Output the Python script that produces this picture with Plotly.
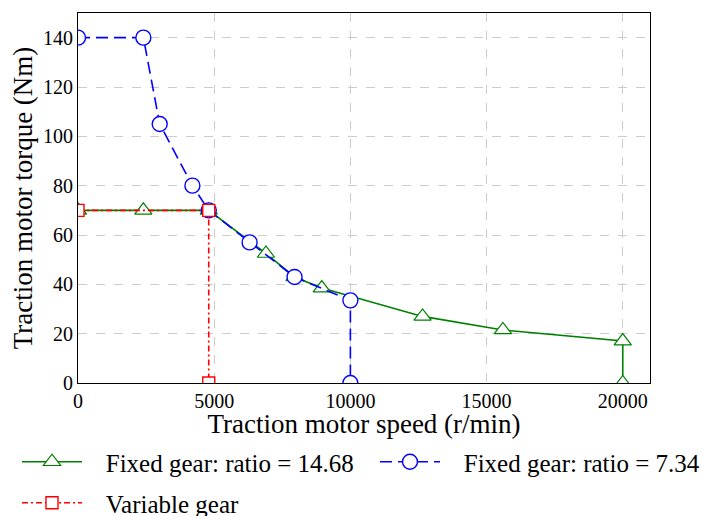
import plotly.graph_objects as go

# Data
green_x = [0, 2400, 4800, 6900, 7950, 8950, 12650, 15600, 20000, 20000]
green_y = [70, 70, 70, 52.5, 43, 38.5, 27, 21.5, 17, 0]
blue_x = [0, 2400, 3000, 4200, 4800, 6300, 7950, 10000, 10000]
blue_y = [140, 140, 105, 80, 70, 57, 43, 33.5, 0]
red_x = [0, 4800, 4800]
red_y = [70, 70, 0]

names = ["Fixed gear: ratio = 14.68", "Fixed gear: ratio = 7.34", "Variable gear"]
x_ticks = [0, 5000, 10000, 15000, 20000]
x_ticklabels = ["0", "5000", "10000", "15000", "20000"]
y_ticks = [0, 20, 40, 60, 80, 100, 120, 140]

FONT = "Liberation Serif, Times New Roman, DejaVu Serif, serif"
PAD = "\u00a0" * 3

# page has an 8px body margin, so the figure is drawn 8px smaller
W, H = 701, 508

fig = go.Figure()
fig.add_trace(go.Scatter(
    x=green_x, y=green_y, mode="lines+markers", name=PAD + names[0], legend="legend",
    line=dict(color="#008000", width=1.6),
    marker=dict(symbol="triangle-up", size=15, color="white",
                line=dict(color="#008000", width=1.2)),
))
fig.add_trace(go.Scatter(
    x=blue_x, y=blue_y, mode="lines+markers", name=PAD + names[1], legend="legend2",
    line=dict(color="#0000ff", width=1.6, dash="12px,6px"),
    marker=dict(symbol="circle", size=15, color="white",
                line=dict(color="#0000ff", width=1.4)),
))
fig.add_trace(go.Scatter(
    x=red_x, y=red_y, mode="lines+markers", name=PAD + names[2], legend="legend3",
    line=dict(color="#ff0000", width=1.6, dash="6px,3px,2px,3px"),
    marker=dict(symbol="square", size=12, color="white",
                line=dict(color="#ff0000", width=1.4)),
))

leg_common = dict(xref="container", yref="container", xanchor="left", yanchor="middle",
                  orientation="h", font=dict(family=FONT, size=25), itemwidth=60,
                  bgcolor="rgba(0,0,0,0)", borderwidth=0)

fig.update_layout(
    width=W, height=H,
    margin=dict(l=70, r=59, t=5, b=133, autoexpand=False),
    plot_bgcolor="white", paper_bgcolor="white",
    font=dict(family=FONT, size=20, color="black"),
    showlegend=True,
    legend=dict(x=9 / W, y=1 - 454 / H, **leg_common),
    legend2=dict(x=367 / W, y=1 - 454 / H, **leg_common),
    legend3=dict(x=9 / W, y=1 - 495 / H, **leg_common),
    xaxis=dict(range=[0, 21000], tickvals=x_ticks, ticktext=x_ticklabels,
               showgrid=True, gridcolor="#cccccc", griddash="dash", gridwidth=1,
               showline=True, linecolor="black", linewidth=1.2, mirror=True,
               zeroline=False, ticks="", automargin=True,
               title=dict(text="Traction motor speed (r/min)", standoff=3,
                          font=dict(family=FONT, size=27))),
    yaxis=dict(range=[0, 150], tickvals=y_ticks,
               showgrid=True, gridcolor="#cccccc", griddash="dash", gridwidth=1,
               showline=True, linecolor="black", linewidth=1.2, mirror=True,
               zeroline=False, ticks="",
               title=dict(text="Traction motor torque (Nm)", standoff=4,
                          font=dict(family=FONT, size=27))),
)

fig.write_html("out.html")
